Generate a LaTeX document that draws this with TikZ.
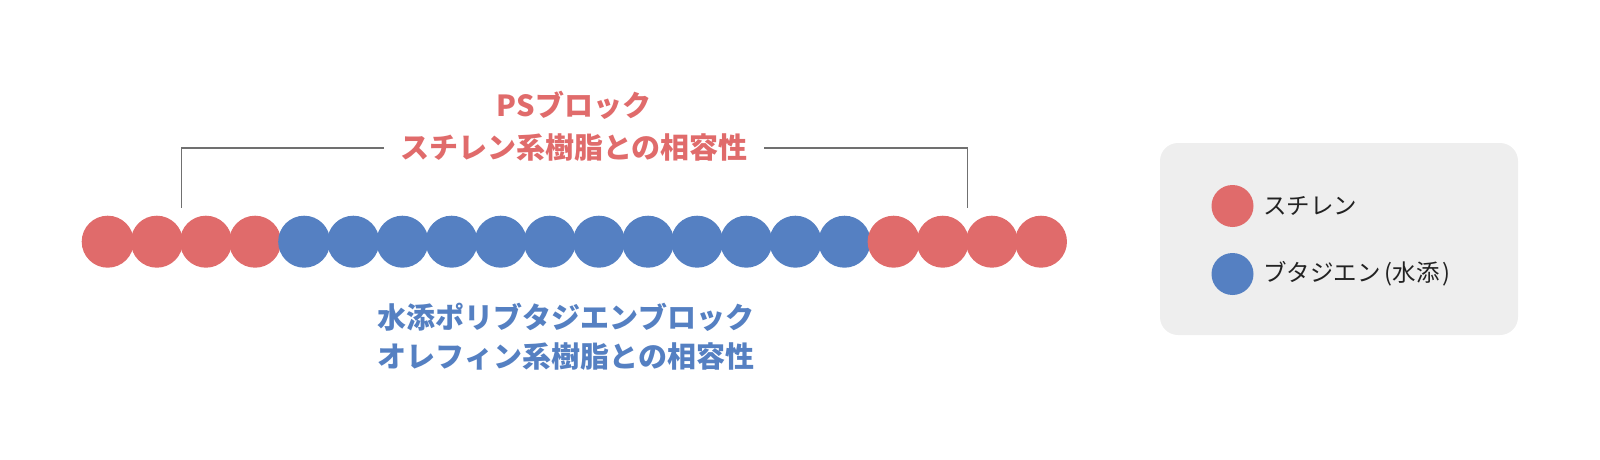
\documentclass[tikz,border=0pt]{standalone}
\usepackage{fontspec}
\usetikzlibrary{calc}
\newfontfamily\jp{Noto Sans CJK JP}
\definecolor{sred}{HTML}{E06B6B}
\definecolor{bblue}{HTML}{5580C2}
\definecolor{legbg}{HTML}{EEEEEE}
\definecolor{brk}{HTML}{707070}
\definecolor{ink}{HTML}{222222}
\tikzset{
  bead/.style={circle, inner sep=0pt, minimum size=52pt},
  redbead/.style={bead, fill=sred},
  bluebead/.style={bead, fill=bblue},
  legdot/.style={circle, inner sep=0pt, minimum size=42pt},
  title/.style={inner sep=0pt, font={\jp\bfseries\fontsize{29}{35}\selectfont}},
  legtext/.style={inner sep=0pt, anchor=west, text=ink, font={\jp\fontsize{23.5}{28}\selectfont}},
  bracket/.style={draw=brk, line width=1.5pt},
}
\begin{document}
\begin{tikzpicture}[x=1pt,y=-1pt]
\useasboundingbox (0,0) rectangle (1600,460);
% chain of beads
\foreach \i in {1,...,20}{
  \pgfmathtruncatemacro{\isblue}{(\i>4)&&(\i<17)}
  \ifnum\isblue=1
    \node[bluebead] (c\i) at ({107.7+49.12*(\i-1)},241.7) {};
  \else
    \node[redbead] (c\i) at ({107.7+49.12*(\i-1)},241.7) {};
  \fi
}
% titles
\node[title, text=sred] (ps1) at (574,105) {PSブロック};
\node[title, text=sred] (ps2) at (574,148) {スチレン系樹脂との相容性};
\node[title, text=bblue] (hb1) at (566,317) {水添ポリブタジエンブロック};
\node[title, text=bblue] (hb2) at (566,357) {オレフィン系樹脂との相容性};
% bracket
\coordinate (bl) at ($(c2)!0.5!(c3)+(0,-34)$);
\coordinate (br) at ($(c18)!0.5!(c19)+(0,-34)$);
\draw[bracket] ([xshift=-16pt]ps2.west) -| (bl);
\draw[bracket] ([xshift=16pt]ps2.east) -| (br);
% legend
\node[fill=legbg, rounded corners=18pt, inner sep=0pt, minimum width=358pt, minimum height=192pt] (leg) at (1339,239) {};
\node[legdot, fill=sred] (d1) at (1232.5,206) {};
\node[legdot, fill=bblue] (d2) at (1232.5,274) {};
\node[legtext] (t1) at (1263,206) {スチレン};
\node[legtext] (t2) at (1263,274) {ブタジエン\kern4pt(水添\kern3pt)};
\end{tikzpicture}
\end{document}
